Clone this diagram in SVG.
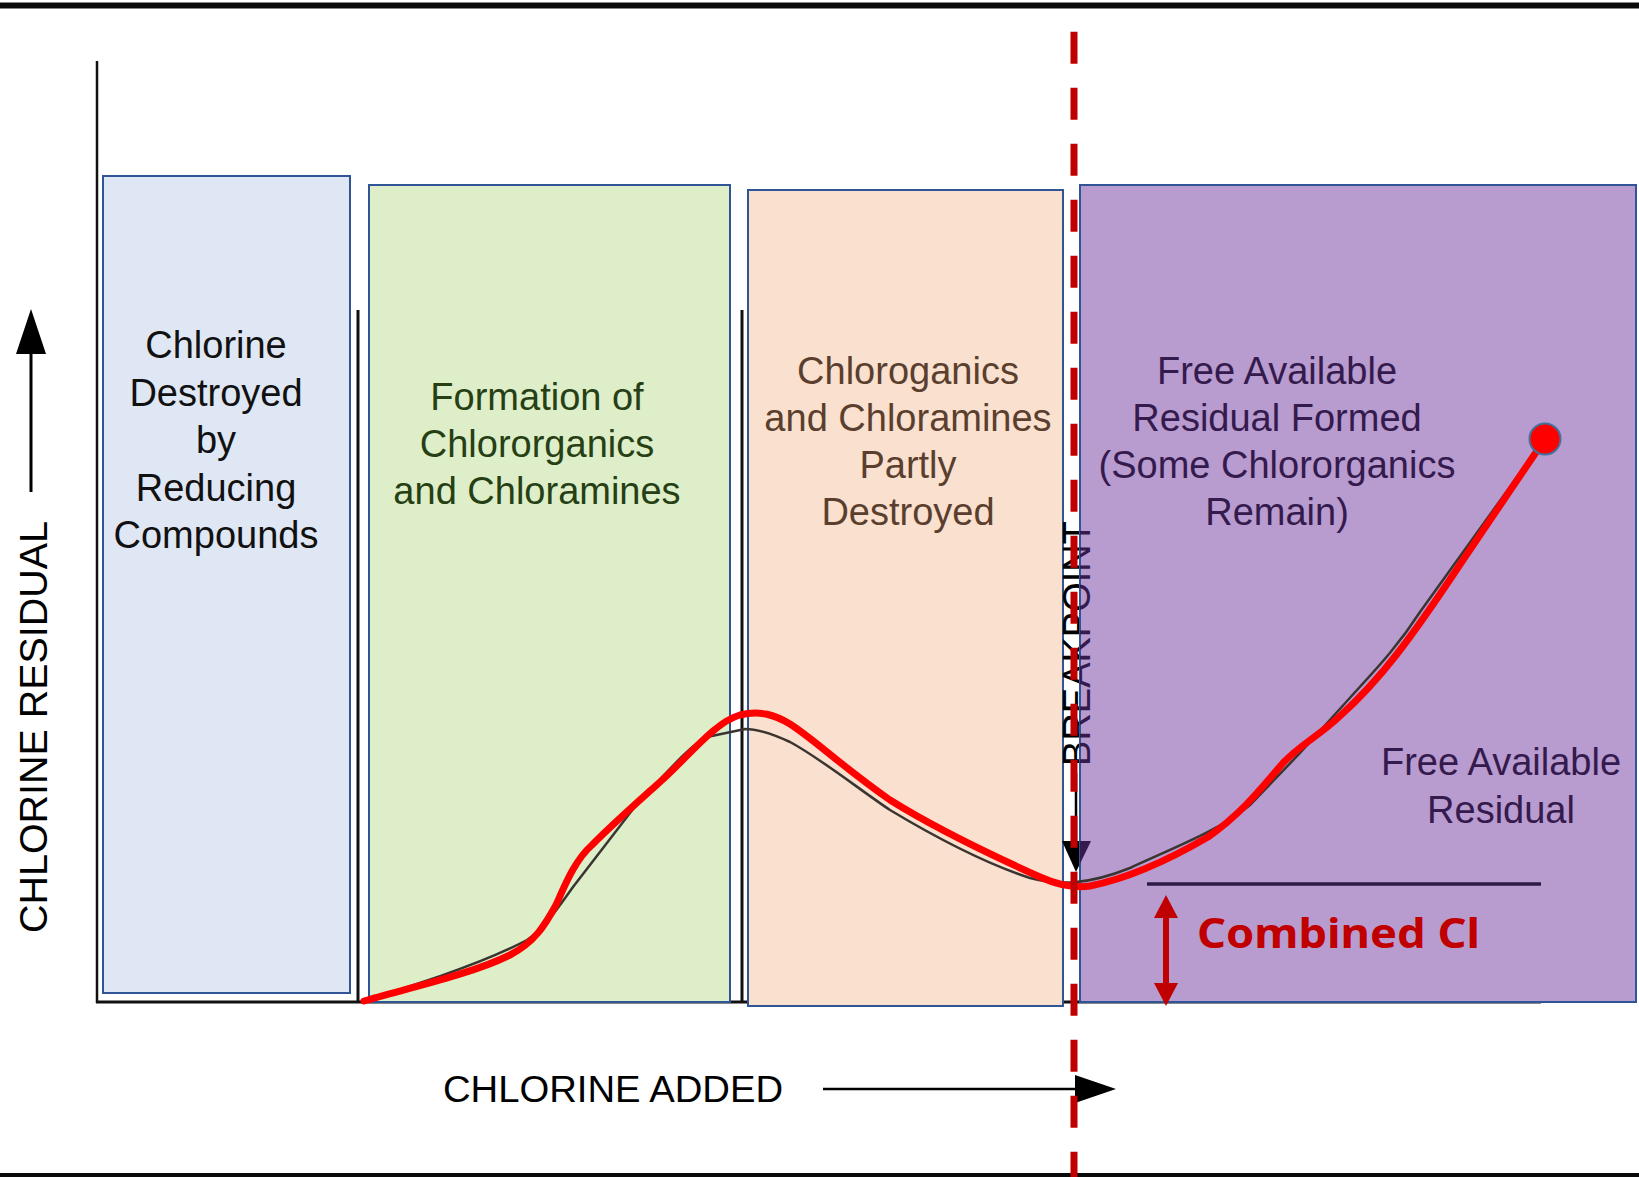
<svg xmlns="http://www.w3.org/2000/svg" width="1639" height="1177" viewBox="0 0 1639 1177">
<style>
.box{stroke:#2f5597;stroke-width:2}
.lbl{font-family:"Liberation Sans",Arial,sans-serif;font-size:38px;text-anchor:middle}
.ax{stroke:#111;fill:none}
</style>
<defs>
<clipPath id="gap"><rect x="1040" y="480" width="40" height="420"/></clipPath>
<clipPath id="inpurple"><rect x="1080" y="480" width="60" height="420"/></clipPath>
</defs>
<rect x="0" y="0" width="1639" height="1177" fill="#fff"/>
<!-- frame -->
<rect x="0" y="2.5" width="1639" height="6" fill="#0a0a0a"/>
<rect x="0" y="1173" width="1639" height="4" fill="#0a0a0a"/>

<g id="axes">
<line class="ax" x1="97" y1="61" x2="97" y2="1003" stroke-width="2.5"/>
<line class="ax" x1="96" y1="1002" x2="1541" y2="1002" stroke-width="3"/>
<line class="ax" x1="358" y1="310" x2="358" y2="1003" stroke-width="3"/>
<line class="ax" x1="742" y1="310" x2="742" y2="1003" stroke-width="3"/>
</g>

<g id="zone-reducing">
<rect class="box" x="103" y="176" width="247" height="817" fill="#dfe6f4"/>
<text class="lbl" x="216" fill="#111"><tspan x="216" y="358">Chlorine</tspan><tspan x="216" y="406">Destroyed</tspan><tspan x="216" y="453">by</tspan><tspan x="216" y="501">Reducing</tspan><tspan x="216" y="548">Compounds</tspan></text>
</g>

<g id="zone-formation">
<rect class="box" x="369" y="185" width="361" height="817" fill="#ddeec8"/>
<text class="lbl" fill="#263f14"><tspan x="537" y="410">Formation of</tspan><tspan x="537" y="457">Chlororganics</tspan><tspan x="537" y="504">and Chloramines</tspan></text>
</g>

<g id="zone-partly">
<rect class="box" x="748" y="190" width="315" height="816" fill="#fae0ce"/>
<text class="lbl" fill="#5a3f2e"><tspan x="908" y="384">Chloroganics</tspan><tspan x="908" y="431">and Chloramines</tspan><tspan x="908" y="478">Partly</tspan><tspan x="908" y="525">Destroyed</tspan></text>
</g>

<g id="breakpoint-label">
<g clip-path="url(#gap)" fill="#000">
<text class="lbl" font-size="38" transform="translate(1090,643.5) rotate(-90)">BREAKPOINT</text>
<line x1="1076" y1="773" x2="1076" y2="845" stroke="#000" stroke-width="2.5"/>
<polygon points="1062,841 1091,841 1076,872"/>
</g>
</g>

<g id="zone-free">
<rect class="box" x="1080" y="185" width="556" height="817" fill="#b89bcf"/>
<g clip-path="url(#inpurple)" fill="#341a4d">
<text class="lbl" transform="translate(1090,643.5) rotate(-90)">BREAKPOINT</text>
<polygon points="1062,841 1091,841 1076,872"/>
</g>
<text class="lbl" fill="#341a4d"><tspan x="1277" y="384">Free Available</tspan><tspan x="1277" y="431">Residual Formed</tspan><tspan x="1277" y="478">(Some Chlororganics</tspan><tspan x="1277" y="525">Remain)</tspan></text>
<text class="lbl" fill="#341a4d"><tspan x="1501" y="775">Free Available</tspan><tspan x="1501" y="823">Residual</tspan></text>
<line x1="1147" y1="884" x2="1541" y2="884" stroke="#2e1a47" stroke-width="3.5"/>
</g>

<g id="axis-labels">
<text class="lbl" font-size="41" fill="#000" textLength="412" lengthAdjust="spacingAndGlyphs" transform="translate(46.5,727) rotate(-90)">CHLORINE RESIDUAL</text>
<text font-family="Liberation Sans,Arial,sans-serif" font-size="36" fill="#000" x="443" y="1102" textLength="340" lengthAdjust="spacingAndGlyphs">CHLORINE ADDED</text>
</g>

<g id="connectors">
<!-- original curve -->
<path d="M365,1000 C400,990 480,965 527,940 C545,928 560,905 573,887 L640,800 C665,775 690,745 707,737 L745,729 C760,729 775,735 790,742 C820,758 860,790 890,810 C940,840 990,865 1030,878 C1060,886 1090,884 1130,868 C1180,845 1220,830 1250,805 L1300,753 L1357,690 C1380,665 1400,643 1420,612 L1535,452" fill="none" stroke="#3a3530" stroke-width="2.5"/>
<!-- y arrow -->
<line x1="31" y1="492" x2="31" y2="345" stroke="#000" stroke-width="3"/>
<polygon points="31,309 16,354 46,354" fill="#000"/>
<!-- x arrow -->
<line x1="823" y1="1089" x2="1080" y2="1089" stroke="#000" stroke-width="2.5"/>
<polygon points="1075,1075 1116,1089 1075,1103" fill="#000"/>
<!-- red highlighted curve -->
<path d="M364,1001 C400,990 470,975 510,955 C535,942 545,925 556,905 C565,885 575,860 592,845 C615,822 640,800 660,782 C690,755 715,722 740,715 C760,710 775,715 790,724 C815,740 840,765 890,800 C930,825 980,850 1040,877 C1060,886 1075,888 1090,886 C1120,880 1160,865 1208,837 C1240,815 1260,790 1283,763 C1300,745 1320,735 1340,716 C1380,680 1410,640 1463,560 L1545,439" fill="none" stroke="#ff0000" stroke-width="7" stroke-linecap="round" stroke-linejoin="round"/>
<circle cx="1545" cy="439" r="15.5" fill="#ff0000" stroke="#41719c" stroke-width="2"/>
<!-- combined Cl arrow -->
<line x1="1166" y1="912" x2="1166" y2="990" stroke="#c00000" stroke-width="6"/>
<polygon points="1166,895 1154,918 1178,918" fill="#c00000"/>
<polygon points="1166,1006 1154,983 1178,983" fill="#c00000"/>
<!-- breakpoint dashed line -->
<line x1="1074" y1="31.7" x2="1074" y2="1177" stroke="#c00000" stroke-width="7" stroke-dasharray="32 24"/>
</g>

<g id="combined-label">
<text x="1197" y="948" font-family="Noto Sans,Liberation Sans,sans-serif" font-weight="700" font-size="42" fill="#c00000" textLength="283" lengthAdjust="spacingAndGlyphs">Combined Cl</text>
</g>
</svg>
